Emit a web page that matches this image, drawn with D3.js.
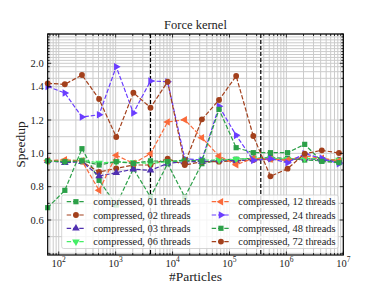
<!DOCTYPE html>
<html><head><meta charset="utf-8">
<script src="https://cdn.jsdelivr.net/npm/d3@7"></script>
<style>body{margin:0;background:#fff}svg{display:block}</style>
</head><body>
<svg id="c" width="382" height="287"></svg>
<script>
const particles = [64,128,256,512,1024,2048,4096,8192,16384,32768,65536,131072,262144,524288,1048576,2097152,4194304,8388608];
const seriesNames = ["compressed, 01 threads","compressed, 02 threads","compressed, 03 threads","compressed, 06 threads","compressed, 12 threads","compressed, 24 threads","compressed, 48 threads","compressed, 72 threads"];
const t01 = [0.674,0.778,1.028,0.838,0.690,0.908,0.738,0.938,0.738,0.938,0.960,0.965,0.970,0.975,0.970,0.960,0.955,0.950];
const t02 = [0.955,0.950,0.950,0.888,0.910,0.930,0.930,0.968,0.930,0.950,0.950,0.955,0.960,0.965,0.960,0.970,0.965,0.960];
const t03 = [0.955,0.944,0.950,0.864,0.884,0.905,0.898,0.940,0.950,0.950,0.960,0.955,0.965,0.970,0.960,0.970,0.960,0.955];
const t06 = [0.950,0.955,0.960,0.942,0.950,0.945,0.940,0.950,0.955,0.960,0.960,0.965,0.970,0.970,0.965,0.970,0.965,0.960];
const t12 = [0.955,0.962,0.955,0.778,0.988,0.940,0.998,1.188,1.202,1.094,0.984,0.932,0.970,0.965,0.960,0.985,0.970,0.955];
const t24 = [1.404,1.362,1.218,1.232,1.850,1.242,1.502,1.489,0.968,0.960,1.282,1.108,0.958,0.968,0.944,0.998,0.970,0.938];
const t48 = [0.955,0.950,0.955,0.930,0.950,0.940,0.955,0.950,0.960,0.955,1.264,1.034,1.004,1.004,1.004,1.054,0.952,0.944];
const t72 = [1.460,1.443,1.625,1.326,1.098,1.364,1.274,1.489,0.938,1.204,1.320,1.602,1.104,0.862,0.908,0.998,1.018,1.002];
const seriesValues = [t01,t02,t03,t06,t12,t24,t48,t72];
const seriesColors = ["#2ca048","#a3401c","#5030b0","#44ee66","#fa6a3a","#6a3dff","#2ca048","#a3401c"];
const seriesMarkers = ["square","circle","triUp","triDown","triLeft","triRight","square","circle"];
const yTickLabels = [0.6,0.8,1.0,1.2,1.4,2.0];
const yGridValues = [0.4,0.5,0.6,0.7,0.8,0.9,1.0,1.1,1.2,1.3,1.4,1.55,1.7,1.85,2.0,2.1,2.2,2.3,2.4,2.5,2.6,2.7,2.8,2.9,3.0];
const xTickExps = [2,3,4,5,6,7];
const vLines = [4096, 355000];
const titleText = "Force kernel";
const xLabel = "#Particles";
const yLabel = "Speedup";

const L=47.7, R=343.3, T=34, B=255;
const svg = d3.select("#c");
const font = "'Liberation Serif', serif";
const x = d3.scaleLog().domain([64,1e7]).range([L,R]);
const y = d3.scaleLinear().domain([0.39,1.4,1.55,1.7,1.85,2.0,3.0]).range([B,86.7,78.3,71.7,66.7,63.3,T]).clamp(true);

const g = svg.append("g");
const xGrid = [];
for (let e=1;e<=6;e++) for (let m=1;m<=9;m++){ const v=m*Math.pow(10,e); if(v>=64 && v<=1e7) xGrid.push(v);}
xGrid.push(1e7);
g.selectAll(".xg").data(xGrid).enter().append("line")
 .attr("x1",d=>x(d)).attr("x2",d=>x(d)).attr("y1",T).attr("y2",B)
 .attr("stroke","#cbcbcb").attr("stroke-width",1);
g.selectAll(".yg").data(yGridValues).enter().append("line")
 .attr("x1",L).attr("x2",R).attr("y1",d=>y(d)).attr("y2",d=>y(d))
 .attr("stroke","#cbcbcb").attr("stroke-width",1);

g.selectAll(".vl").data(vLines).enter().append("line")
 .attr("x1",d=>x(d)).attr("x2",d=>x(d)).attr("y1",T).attr("y2",B)
 .attr("stroke","#000").attr("stroke-width",1.2).attr("stroke-dasharray","4,2");

function sym(kind){
  if(kind==="square") return {p:d3.symbol(d3.symbolSquare,27)(),r:0};
  if(kind==="circle") return {p:d3.symbol(d3.symbolCircle,27)(),r:0};
  const p=d3.symbol(d3.symbolTriangle,25)();
  return {p, r: kind==="triUp"?0: kind==="triDown"?180: kind==="triLeft"?-90:90};
}
const line = d3.line().x((d,i)=>x(particles[i])).y(d=>y(d));
seriesValues.forEach((vals,si)=>{
  const col=seriesColors[si];
  g.append("path").attr("d",line(vals)).attr("fill","none").attr("stroke",col)
   .attr("stroke-width",1.2).attr("stroke-dasharray","4.4,1.9");
  const s=sym(seriesMarkers[si]);
  g.selectAll(null).data(vals).enter().append("path").attr("d",s.p)
   .attr("transform",(d,i)=>`translate(${x(particles[i])},${y(d)}) rotate(${s.r})`)
   .attr("fill",col);
});

const ax = svg.append("g");
const xMajor = xTickExps.map(e=>Math.pow(10,e));
const xMinor = xGrid.filter(v=>!xMajor.includes(v));
function vt(vals,len){
  vals.forEach(v=>{
    ax.append("line").attr("x1",x(v)).attr("x2",x(v)).attr("y1",B).attr("y2",B-len).attr("stroke","#000").attr("stroke-width",0.8);
    ax.append("line").attr("x1",x(v)).attr("x2",x(v)).attr("y1",T).attr("y2",T+len).attr("stroke","#000").attr("stroke-width",0.8);
  });
}
vt(xMajor,3.5); vt(xMinor,2);
yGridValues.forEach(v=>{
  const len = yTickLabels.includes(v)?3.5:2;
  ax.append("line").attr("x1",L).attr("x2",L+len).attr("y1",y(v)).attr("y2",y(v)).attr("stroke","#000").attr("stroke-width",0.8);
  ax.append("line").attr("x1",R).attr("x2",R-len).attr("y1",y(v)).attr("y2",y(v)).attr("stroke","#000").attr("stroke-width",0.8);
});
ax.append("rect").attr("x",L).attr("y",T).attr("width",R-L).attr("height",B-T)
 .attr("fill","none").attr("stroke","#000").attr("stroke-width",1.2);

ax.selectAll(".yl").data(yTickLabels).enter().append("text")
 .attr("x",L-4).attr("y",d=>y(d)).attr("dy","0.35em").attr("text-anchor","end")
 .attr("font-family",font).attr("font-size",10.5).attr("fill","#222").text(d=>d.toFixed(1));
xTickExps.forEach(e=>{
  const t=ax.append("text").attr("x",x(Math.pow(10,e))).attr("y",B+11.5).attr("text-anchor","middle")
   .attr("font-family",font).attr("font-size",10.5).attr("fill","#222");
  t.append("tspan").text("10");
  t.append("tspan").attr("dy",-4.5).attr("font-size",7.5).text(String(e));
});
svg.append("text").attr("x",(L+R)/2).attr("y",29).attr("text-anchor","middle")
 .attr("font-family",font).attr("font-size",12.5).attr("fill","#222").text(titleText);
svg.append("text").attr("x",(L+R)/2).attr("y",281).attr("text-anchor","middle")
 .attr("font-family",font).attr("font-size",13.5).attr("fill","#222").text(xLabel);
svg.append("text").attr("transform",`translate(25,${(T+B)/2}) rotate(-90)`).attr("text-anchor","middle")
 .attr("font-family",font).attr("font-size",13.5).attr("fill","#222").text(yLabel);

const lg = svg.append("g");
lg.append("rect").attr("x",61.7).attr("y",195).attr("width",276.5).attr("height",53.5).attr("rx",2)
 .attr("fill","#fff").attr("fill-opacity",0.8).attr("stroke","#ccc").attr("stroke-width",0.8);
seriesNames.forEach((nm,i)=>{
  const col=i<4?0:1, row=i%4;
  const hx = col===0?66.7:211.7, ty=201.7+row*13.3;
  const c=seriesColors[i];
  lg.append("line").attr("x1",hx).attr("x2",hx+18.5).attr("y1",ty).attr("y2",ty)
   .attr("stroke",c).attr("stroke-width",1.2).attr("stroke-dasharray","4.4,1.9");
  const s=sym(seriesMarkers[i]);
  lg.append("path").attr("d",s.p).attr("transform",`translate(${hx+9.25},${ty}) rotate(${s.r})`).attr("fill",c);
  lg.append("text").attr("x",hx+26.6).attr("y",ty).attr("dy","0.35em")
   .attr("font-family",font).attr("font-size",10.4).attr("fill","#222").text(nm);
});
</script>
</body></html>
